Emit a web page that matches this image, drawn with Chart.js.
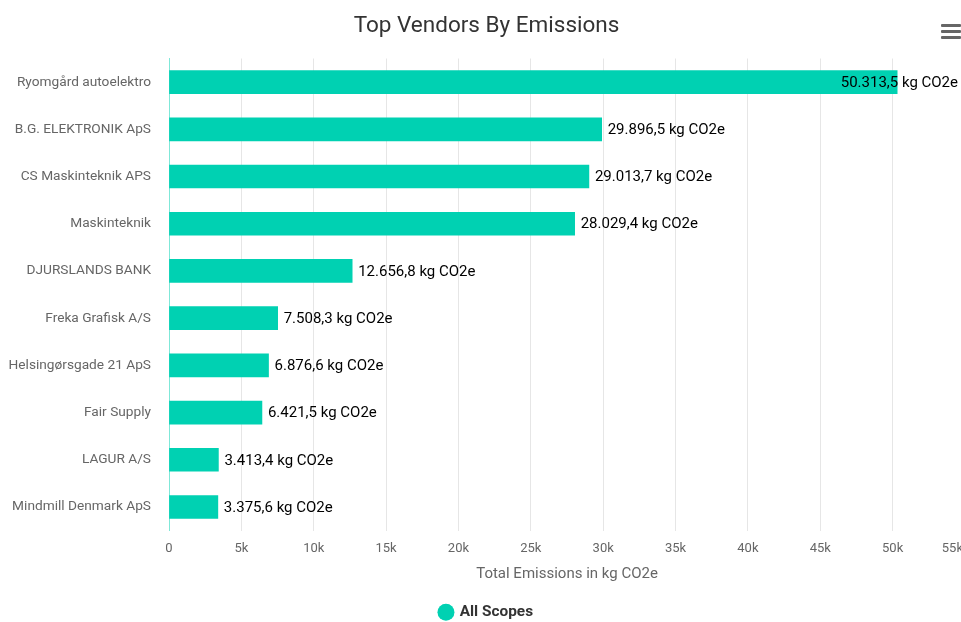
<!DOCTYPE html>
<html><head><meta charset="utf-8">
<script src="https://cdn.jsdelivr.net/npm/chart.js@4.4.1/dist/chart.umd.min.js"></script>
<style>
html,body{margin:0;padding:0;overflow:hidden;background:#fff;width:961px;height:622px}
#wrap{position:absolute;left:0;top:0;width:973px;height:622px}
#menu{position:absolute;left:941px;top:24px;width:20px}
#menu span{display:block;height:3px;background:#666;margin-bottom:3px;border-radius:1px}
</style></head><body>
<div id="wrap"><canvas id="c"></canvas></div>
<div id="menu"><span></span><span></span><span></span></div>
<script>
const chartTitle = 'Top Vendors By Emissions';
const vendors = ['Ryomgård autoelektro','B.G. ELEKTRONIK ApS','CS Maskinteknik APS','Maskinteknik','DJURSLANDS BANK','Freka Grafisk A/S','Helsingørsgade 21 ApS','Fair Supply','LAGUR A/S','Mindmill Denmark ApS'];
const emissions = [50313.5, 29896.5, 29013.7, 28029.4, 12656.8, 7508.3, 6876.6, 6421.5, 3413.4, 3375.6];
const seriesName = 'All Scopes';
const xTickValues = [0,5000,10000,15000,20000,25000,30000,35000,40000,45000,50000,55000];
const xTickLabels = ['0','5k','10k','15k','20k','25k','30k','35k','40k','45k','50k','55k'];
const xAxisTitle = 'Total Emissions in kg CO2e';
const unit = 'kg CO2e';

const FONT = 'Roboto, "Noto Sans", sans-serif';
const BAR = '#00d1b2';
const LAST = xTickValues.length - 1;

function fmt(v){
  const s = v.toFixed(1);
  let [i, d] = s.split('.');
  i = i.replace(/\B(?=(\d{3})+(?!\d))/g, '.');
  return i + ',' + d + ' ' + unit;
}

const labelPlugin = {
  id: 'barLabels',
  afterDatasetsDraw(chart){
    const ctx = chart.ctx;
    const meta = chart.getDatasetMeta(0);
    ctx.save();
    ctx.font = '15px ' + FONT;
    ctx.fillStyle = '#000';
    ctx.textBaseline = 'middle';
    ctx.textAlign = 'left';
    const limit = chart.chartArea.right - 7;
    meta.data.forEach((bar, i) => {
      const t = fmt(emissions[i]);
      const w = ctx.measureText(t).width;
      let x = bar.x + 6;
      if (x + w > limit) x = limit - w;
      ctx.fillText(t, x, bar.y + 1);
    });
    // justified last x-axis tick label (kept inside the chart edge)
    const xs = chart.scales.x;
    ctx.font = '13px ' + FONT;
    ctx.fillStyle = '#666666';
    ctx.textAlign = 'right';
    const px = xs.getPixelForValue(xTickValues[LAST]);
    const lw = ctx.measureText(xTickLabels[LAST]).width;
    const right = Math.min(px + lw / 2, chart.chartArea.right - 2);
    ctx.fillText(xTickLabels[LAST], right, chart.chartArea.bottom + 10 + 7.8);
    ctx.restore();
  }
};

new Chart(document.getElementById('c'), {
  type: 'bar',
  data: {
    labels: vendors,
    datasets: [{
      label: seriesName,
      data: emissions,
      backgroundColor: BAR,
      borderWidth: 0,
      barThickness: 23
    }]
  },
  plugins: [labelPlugin],
  options: {
    indexAxis: 'y',
    responsive: true,
    maintainAspectRatio: false,
    devicePixelRatio: 1,
    animation: false,
    layout: { padding: { left: 0, right: 0, top: 0, bottom: -8 } },
    plugins: {
      title: {
        display: true, text: chartTitle, color: '#333333',
        font: { family: FONT, size: 22.5, weight: 'normal' },
        padding: { top: 13, bottom: 18.5 }
      },
      legend: {
        display: true, position: 'bottom',
        labels: {
          usePointStyle: true, pointStyle: 'circle', boxWidth: 12, boxHeight: 12,
          padding: 3, color: '#333333',
          font: { family: FONT, size: 15.4, weight: 'bold' }
        }
      },
      tooltip: { enabled: false }
    },
    scales: {
      x: {
        type: 'linear', min: 0, max: 55000,
        afterBuildTicks(scale){ scale.ticks = xTickValues.map(v => ({ value: v })); },
        afterFit(scale){ scale.height = 71; scale.paddingLeft = 0; scale.paddingRight = 8; },
        ticks: {
          color: '#666666', font: { family: FONT, size: 13 }, padding: 10, maxRotation: 0,
          callback(v){ const k = xTickValues.indexOf(v); return (k >= 0 && k !== LAST) ? xTickLabels[k] : ''; }
        },
        grid: { color: '#e6e6e6', lineWidth: 1, drawTicks: false },
        border: { display: false },
        title: {
          display: true, text: xAxisTitle, color: '#666666',
          font: { family: FONT, size: 15 }, padding: { top: 0, bottom: 18 }
        }
      },
      y: {
        afterFit(scale){ scale.width = 169; },
        ticks: { color: '#666666', font: { family: FONT, size: 13.7 }, padding: 18 },
        grid: { display: false, drawTicks: false },
        border: { display: true, color: '#7fe8d8', width: 1 }
      }
    }
  }
});
</script>
</body></html>
